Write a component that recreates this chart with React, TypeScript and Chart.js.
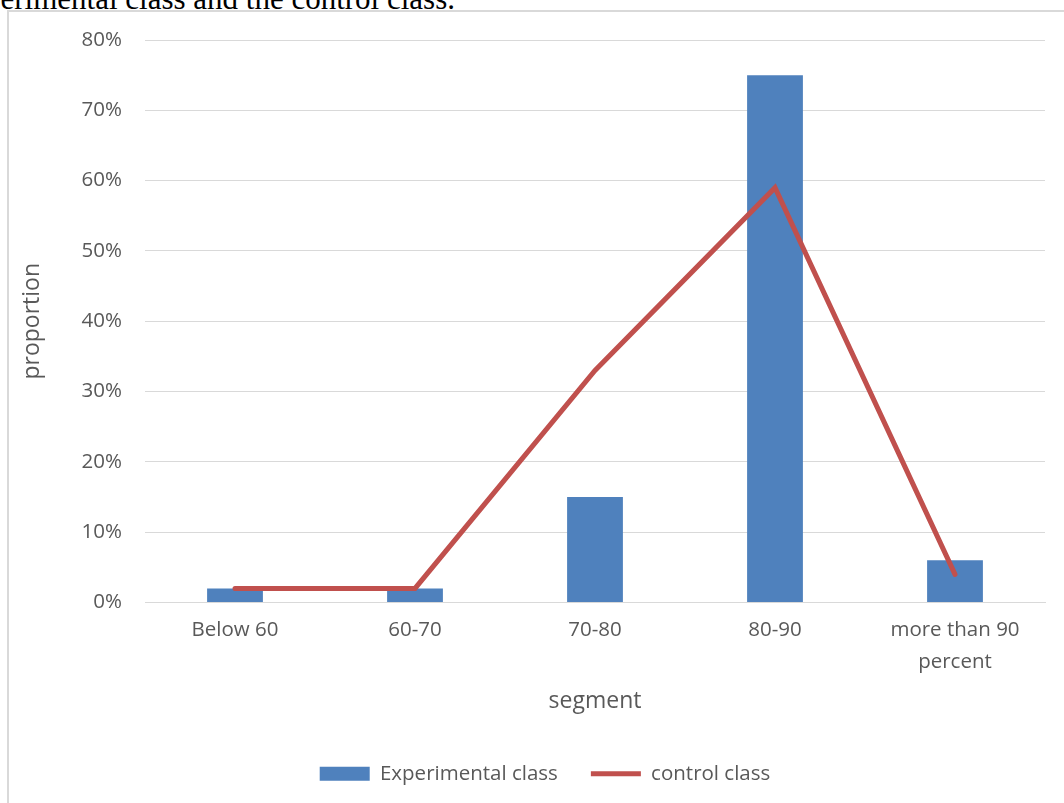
import React, { useEffect, useRef } from 'react';
import { Chart, registerables } from 'chart.js';

Chart.register(...registerables);

const categories: (string | string[])[] = ['Below 60', '60-70', '70-80', '80-90', ['more than 90', 'percent']];
const experimentalClass = [2, 2, 15, 75, 6];
const controlClass = [2, 2, 33, 59, 4];
const yMin = 0;
const yMax = 80;
const yStep = 10;
const seriesNames = ['Experimental class', 'control class'];
const xTitle = 'segment';
const yTitle = 'proportion';
const captionText = 'the experimental class and the control class.';

const FONT = '"Open Sans", sans-serif';
const TEXT = '#595959';
const GRID = '#d9d9d9';
const PAD_LEFT = 45;

export default function App() {
  const ref = useRef<HTMLCanvasElement | null>(null);

  useEffect(() => {
    document.body.style.margin = '0';
    const canvas = ref.current;
    if (!canvas) return;
    const chart = new Chart(canvas, {
      type: 'bar',
      data: {
        labels: categories,
        datasets: [
          {
            type: 'bar',
            label: seriesNames[0],
            data: experimentalClass,
            backgroundColor: '#4f81bd',
            borderWidth: 0,
            categoryPercentage: 1,
            barPercentage: 0.31,
            pointStyle: 'rect',
            order: 1,
          } as any,
          {
            type: 'line',
            label: seriesNames[1],
            data: controlClass,
            borderColor: '#c0504d',
            backgroundColor: '#c0504d',
            borderWidth: 5,
            borderCapStyle: 'round',
            pointRadius: 0,
            pointHoverRadius: 0,
            pointStyle: 'line',
            tension: 0,
            order: 0,
          } as any,
        ],
      },
      options: {
        responsive: false,
        animation: false,
        maintainAspectRatio: false,
        layout: { padding: { left: PAD_LEFT, right: 19, top: 40, bottom: 9 } },
        plugins: {
          tooltip: { enabled: false },
          legend: {
            position: 'bottom',
            labels: {
              usePointStyle: true,
              pointStyleWidth: 50,
              boxHeight: 14,
              padding: 33,
              color: TEXT,
              font: { family: FONT, size: 20.5 },
              sort: (a: any, b: any) => a.datasetIndex - b.datasetIndex,
            },
          },
        },
        scales: {
          x: {
            grid: { display: false, drawTicks: false },
            border: { display: true, color: GRID, width: 1 },
            ticks: {
              color: TEXT,
              font: { family: FONT, size: 20.5, lineHeight: 1.55 },
              padding: 12,
              maxRotation: 0,
              autoSkip: false,
            },
            title: {
              display: true,
              text: xTitle,
              color: TEXT,
              font: { family: FONT, size: 23 },
              padding: { top: 0, bottom: 15 },
            },
            afterFit: (s: any) => {
              s.height = 128;
            },
          },
          y: {
            min: yMin,
            max: yMax,
            grid: { color: GRID, lineWidth: 1, drawTicks: false },
            border: { display: false },
            ticks: {
              stepSize: yStep,
              color: TEXT,
              font: { family: FONT, size: 20.5 },
              padding: 23,
              callback: (v: any) => v + '%',
            },
            title: {
              display: true,
              text: yTitle,
              color: TEXT,
              font: { family: FONT, size: 23 },
              padding: { top: 19 - PAD_LEFT, bottom: 0 },
            },
            afterFit: (s: any) => {
              s.width = 145 - PAD_LEFT;
            },
          },
        },
      },
    });
    return () => chart.destroy();
  }, []);

  return (
    <div style={{ position: 'fixed', left: 0, top: 0, width: 1064, height: 803, overflow: 'hidden', background: '#fff' }}>
      <div
        style={{
          position: 'absolute',
          right: 609,
          top: -17.5,
          fontFamily: '"Liberation Serif", "Times New Roman", serif',
          fontSize: 31,
          lineHeight: '31px',
          whiteSpace: 'nowrap',
          color: '#000',
        }}
      >
        {captionText}
      </div>
      <div
        style={{
          position: 'absolute',
          left: 7,
          top: 10,
          width: 1200,
          height: 900,
          border: '2px solid #d9d9d9',
          boxSizing: 'border-box',
        }}
      />
      <canvas ref={ref} width={1064} height={803} style={{ position: 'absolute', left: 0, top: 0, width: 1064, height: 803 }} />
    </div>
  );
}
